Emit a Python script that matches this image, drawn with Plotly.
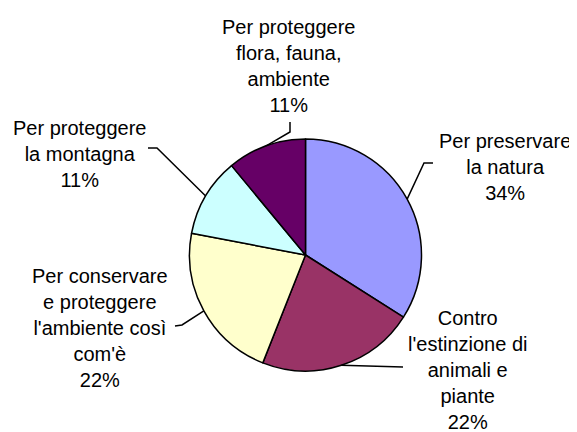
import math
import plotly.graph_objects as go

labels = ["Per preservare la natura",
          "Contro l'estinzione di animali e piante",
          "Per conservare e proteggere l'ambiente così com'è",
          "Per proteggere la montagna",
          "Per proteggere flora, fauna, ambiente"]
label_text = ["Per preservare<br>la natura",
              "Contro<br>l'estinzione di<br>animali e<br>piante",
              "Per conservare<br>e proteggere<br>l'ambiente così<br>com'è",
              "Per proteggere<br>la montagna",
              "Per proteggere<br>flora, fauna,<br>ambiente"]
values = [34, 22, 22, 11, 11]
colors = ["#9999FF", "#993366", "#FFFFCC", "#CCFFFF", "#660066"]

OFF = 8  # page body margin
W, H = 577 - OFF, 432 - OFF
CX, CY, R = 305.5, 255.0, 116.0

# label placement (pixel centres in window) and leader-line elbows (layout only)
label_pos = [(505, 167), (467, 370), (100, 328), (79, 154), (288, 66)]
elbows = [[(424, 163), (433, 163)],
          [(403, 367)],
          [(182, 325), (175, 326)],
          [(157, 148), (148, 148)],
          [(290, 132), (290, 122)]]

def px(x):
    return (x - OFF) / W

def py(y):
    return 1 - (y - OFF) / H

fig = go.Figure(go.Pie(
    labels=labels, values=values, sort=False, direction="clockwise", rotation=0,
    marker=dict(colors=colors, line=dict(color="black", width=1.5)),
    textinfo="none", hoverinfo="label+percent", showlegend=False,
    domain=dict(x=[px(CX - R), px(CX + R)], y=[py(CY + R), py(CY - R)]),
))

total = sum(values)
cum = 0
annotations = []
shapes = []
for i, v in enumerate(values):
    mid = (cum + v / 2) / total * 2 * math.pi
    cum += v
    ex, ey = CX + R * math.sin(mid), CY - R * math.cos(mid)
    pts = [(ex, ey)] + elbows[i]
    path = "M " + " L ".join(f"{px(x):.5f},{py(y):.5f}" for x, y in pts)
    shapes.append(dict(type="path", xref="paper", yref="paper", path=path,
                       line=dict(color="black", width=1.5)))
    pct = round(v / total * 100)
    lx, ly = label_pos[i]
    annotations.append(dict(x=px(lx), y=py(ly), xref="paper", yref="paper",
                            text=f"{label_text[i]}<br>{pct}%", showarrow=False,
                            xanchor="center", yanchor="middle", align="center",
                            font=dict(family="Liberation Sans, Arial, sans-serif",
                                      size=20, color="black")))

fig.update_layout(width=W, height=H, margin=dict(l=0, r=0, t=0, b=0),
                  paper_bgcolor="white", plot_bgcolor="white",
                  annotations=annotations, shapes=shapes)
fig.write_html("out.html")
